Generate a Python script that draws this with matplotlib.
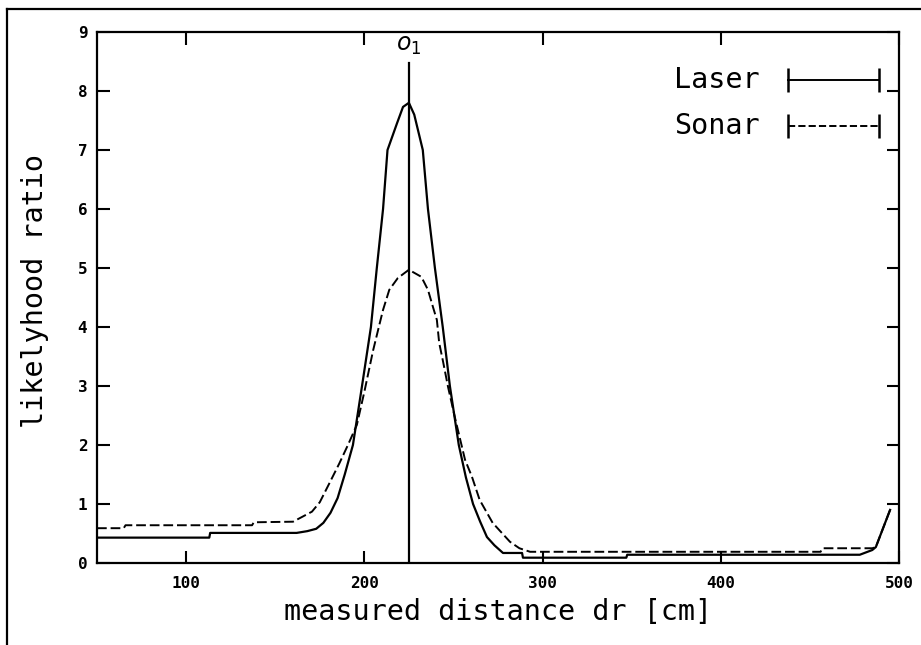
import matplotlib
matplotlib.use("Agg")
import matplotlib.pyplot as plt
from matplotlib.lines import Line2D

# values
laser_x = [50, 113, 113.5, 162, 168, 173, 177, 181, 185, 189, 193.6, 198.7, 203.7, 207, 210.5, 213,
           218.3, 221.7, 225, 228, 232.8, 235.7, 239.6, 244, 248, 253, 257, 261, 265, 268.8,
           273, 277.8, 288.5, 289, 347, 347.5, 478, 485, 487, 495]
laser_y = [0.43, 0.43, 0.51, 0.51, 0.54, 0.58, 0.68, 0.85, 1.1, 1.5, 2.0, 3.0, 4.0, 5.0, 6.0, 7.0,
           7.45, 7.73, 7.8, 7.6, 7.0, 6.0, 5.0, 4.0, 3.0, 2.0, 1.45, 1.0, 0.7, 0.44,
           0.3, 0.17, 0.17, 0.09, 0.09, 0.14, 0.14, 0.22, 0.27, 0.9]

sonar_x = [50, 65, 66, 137, 138, 160, 165, 170.6, 175, 180.7, 186, 190.8, 195.8, 200, 204.9, 208.7,
           210.5, 214, 218.8, 225, 232, 235.7, 238.5, 240.7, 242, 244, 247, 250.8, 256.5,
           260.4, 264.7, 272, 281.7, 287, 293, 456, 457, 485, 487, 495]
sonar_y = [0.59, 0.59, 0.64, 0.64, 0.69, 0.7, 0.78, 0.87, 1.03, 1.37, 1.69, 2.0, 2.34, 2.9, 3.6, 4.07,
           4.29, 4.63, 4.83, 4.97, 4.85, 4.63, 4.34, 4.12, 3.73, 3.44, 2.98, 2.47, 1.75,
           1.46, 1.07, 0.68, 0.36, 0.25, 0.19, 0.19, 0.25, 0.25, 0.27, 0.9]

o1_x = 225
o1_top = 8.47
x_ticks = [100, 200, 300, 400, 500]
y_ticks = list(range(10))

font = "DejaVu Sans Mono"

fig = plt.figure(figsize=(9.21, 6.45), dpi=100)
ax = fig.add_axes([97 / 921, 82 / 645, 802 / 921, 531 / 645])

ax.plot(laser_x, laser_y, color="black", lw=1.6)
ax.plot(sonar_x, sonar_y, color="black", lw=1.4, dashes=(5, 2))
ax.plot([o1_x, o1_x], [0, o1_top], color="black", lw=1.6)
ax.text(o1_x, 8.78, "$o_1$", ha="center", va="center", fontsize=17, fontweight="bold")

ax.set_xlim(50, 500)
ax.set_ylim(0, 9)
ax.set_xticks(x_ticks)
ax.set_yticks(y_ticks)
ax.set_xticklabels([str(t) for t in x_ticks], fontfamily=font, fontsize=11.5, fontweight="bold")
ax.set_yticklabels([str(t) for t in y_ticks], fontfamily=font, fontsize=11.5, fontweight="bold")
ax.tick_params(direction="in", length=9, width=1.5, top=True, right=True)
ax.tick_params(axis="x", pad=9)
ax.tick_params(axis="y", pad=7)
for s in ax.spines.values():
    s.set_linewidth(1.6)

ax.set_xlabel("measured distance dr [cm]", fontfamily=font, fontsize=20.5)
ax.xaxis.set_label_coords(0.5, -0.066)
fig.text(35 / 921, 1 - 291 / 645, "likelyhood ratio", rotation=90, ha="center", va="center",
         fontfamily=font, fontsize=20.5)

# legend drawn by hand: text + line with end caps
for label, yy, style in [("Laser", 0.91, "-"), ("Sonar", 0.823, "--")]:
    ax.text(0.72, yy, label, transform=ax.transAxes, ha="left", va="center",
            fontfamily=font, fontsize=20.5)
    ax.plot([0.862, 0.975], [yy, yy], transform=ax.transAxes, color="black",
            ls=style, lw=1.4, marker="|", markersize=17, mew=1.8)

# outer frame
fig.add_artist(Line2D([7 / 921, 7 / 921], [0, 1 - 9 / 645], color="black", lw=1.6))
fig.add_artist(Line2D([7 / 921, 1], [1 - 9 / 645, 1 - 9 / 645], color="black", lw=1.6))

fig.savefig("out.png", dpi=100)
